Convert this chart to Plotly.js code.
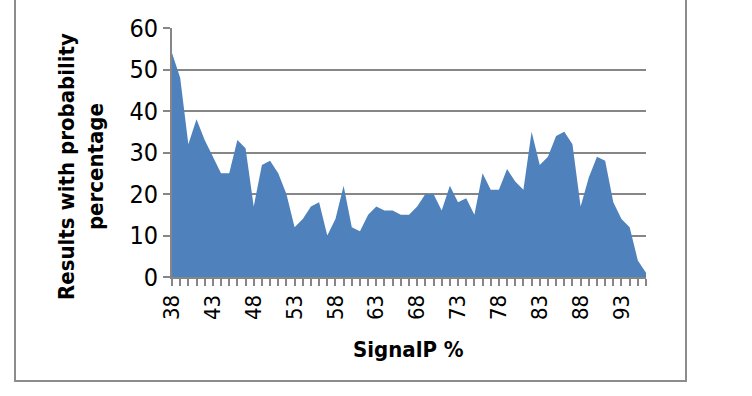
<!DOCTYPE html>
<html>
<head>
<meta charset="utf-8">
<script src="https://cdn.plot.ly/plotly-3.0.1.min.js"></script>
<style>
  html, body { margin: 0; padding: 0; background: #ffffff; }
  #chart { width: 752px; height: 396px; }
</style>
</head>
<body>
<div id="chart"></div>
<script>
// SignalP percentage categories (x) and number of results at each percentage (y)
const signalP = [38, 39, 40, 41, 42, 43, 44, 45, 46, 47, 48, 49, 50, 51, 52, 53, 54, 55, 56, 57,
                 58, 59, 60, 61, 62, 63, 64, 65, 66, 67, 68, 69, 70, 71, 72, 73, 74, 75, 76, 77,
                 78, 79, 80, 81, 82, 83, 84, 85, 86, 87, 88, 89, 90, 91, 92, 93, 94, 95, 96];
const results = [54, 48, 32, 38, 33, 29, 25, 25, 33, 31, 17, 27, 28, 25, 20, 12, 14, 17, 18, 10,
                 14, 22, 12, 11, 15, 17, 16, 16, 15, 15, 17, 20, 20, 16, 22, 18, 19, 15, 25, 21,
                 21, 26, 23, 21, 35, 27, 29, 34, 35, 32, 17, 24, 29, 28, 18, 14, 12, 4, 1];

// Labelled x ticks (every fifth category)
const xTickVals = [38, 43, 48, 53, 58, 63, 68, 73, 78, 83, 88, 93];
const xTickText = ['38', '43', '48', '53', '58', '63', '68', '73', '78', '83', '88', '93'];
const yTickVals = [0, 10, 20, 30, 40, 50, 60];

const xTitle = 'SignalP %';
const yTitleLines = ['Results with probability', 'percentage'];

const fontFamily = '"Liberation Sans Narrow", "DejaVu Sans Condensed", "Liberation Sans", Arial, sans-serif';
const axisGrey = '#868686';

// plot area in pixels
const M = { l: 172, r: 106, t: 28, b: 119 };
const plotW = 752 - M.l - M.r;
const plotH = 396 - M.t - M.b;
const px2x = px => (px - M.l) / plotW;
const py2y = py => (396 - M.b - py) / plotH;

const trace = {
  type: 'scatter',
  mode: 'lines',
  x: signalP,
  y: results,
  fill: 'tozeroy',
  fillcolor: '#4F81BD',
  line: { color: '#4F81BD', width: 0 },
  hoverinfo: 'x+y'
};

const layout = {
  width: 752,
  height: 396,
  margin: M,
  paper_bgcolor: '#ffffff',
  plot_bgcolor: '#ffffff',
  showlegend: false,
  font: { family: fontFamily, color: '#000000' },
  xaxis: {
    range: [38, 96],
    tickmode: 'array',
    tickvals: xTickVals,
    ticktext: xTickText,
    tickangle: -90,
    ticks: 'outside',
    ticklen: 7,
    tickwidth: 2,
    tickcolor: axisGrey,
    minor: { dtick: 1, tick0: 38, ticks: 'outside', ticklen: 7, tickwidth: 2, tickcolor: axisGrey, showgrid: false },
    tickfont: { size: 22, family: fontFamily, color: '#000000' },
    showline: true,
    linecolor: axisGrey,
    linewidth: 2,
    showgrid: false,
    zeroline: false,
    fixedrange: true,
    title: { text: '' }
  },
  yaxis: {
    range: [0, 60],
    tickmode: 'array',
    tickvals: yTickVals,
    ticks: 'outside',
    ticklen: 7,
    tickwidth: 2,
    tickcolor: axisGrey,
    tickfont: { size: 25, family: fontFamily, color: '#000000' },
    showline: true,
    linecolor: axisGrey,
    linewidth: 2,
    showgrid: true,
    gridcolor: axisGrey,
    gridwidth: 2,
    zeroline: false,
    fixedrange: true,
    title: { text: '' }
  },
  annotations: [
    {
      xref: 'paper', yref: 'paper',
      x: px2x(408), y: py2y(349),
      xanchor: 'center', yanchor: 'middle',
      text: '<b>' + xTitle + '</b>',
      showarrow: false,
      font: { size: 22, family: fontFamily, color: '#000000' }
    },
    {
      xref: 'paper', yref: 'paper',
      x: px2x(81), y: py2y(167),
      xanchor: 'center', yanchor: 'middle',
      textangle: -90,
      text: '<b>' + yTitleLines.join('<br>') + '</b>',
      showarrow: false,
      font: { size: 22, family: fontFamily, color: '#000000' }
    }
  ],
  shapes: [{
    type: 'rect',
    xref: 'paper', yref: 'paper',
    x0: px2x(15), x1: px2x(686),
    y0: py2y(381), y1: py2y(-1),
    line: { color: '#8c8c8c', width: 2 },
    fillcolor: 'rgba(0,0,0,0)',
    layer: 'below'
  }]
};

Plotly.newPlot('chart', [trace], layout, { displayModeBar: false, staticPlot: true });
</script>
</body>
</html>
